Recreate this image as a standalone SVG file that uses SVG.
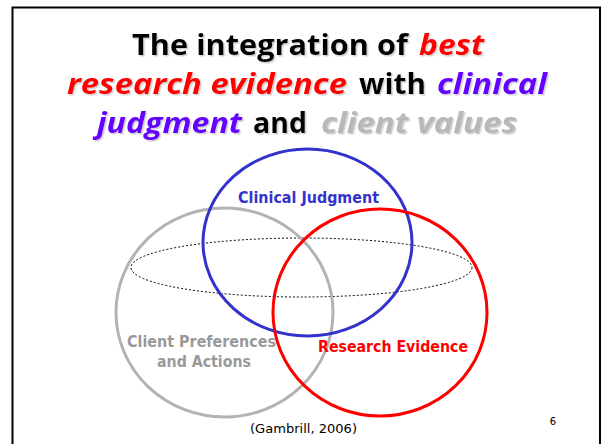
<svg xmlns="http://www.w3.org/2000/svg" width="602" height="444" viewBox="0 0 602 444">
<defs>
<filter id="sh" x="-5%" y="-20%" width="110%" height="140%">
<feDropShadow dx="1.5" dy="1.5" stdDeviation="0.5" flood-color="#999" flood-opacity="0.45"/>
</filter>
</defs>
<style>
.t{font-family:"Open Sans","DejaVu Sans",Verdana,sans-serif;font-weight:bold;font-size:29px;fill:#000}
.red{fill:#ff0000;font-style:italic}
.pur{fill:#6600ff;font-style:italic}
.gry{fill:#b8b8b8;font-style:italic}
.lbl{font-family:"DejaVu Sans",Verdana,sans-serif;font-weight:bold;font-size:15px;text-anchor:middle}
.c{fill:none;stroke-width:3}
</style>
<rect x="0" y="0" width="602" height="444" fill="#fff"/>
<rect x="12.5" y="7.5" width="587.5" height="450" fill="none" stroke="#000" stroke-width="2"/>
<g id="title" filter="url(#sh)">
<text class="t" x="132" y="55" textLength="276" lengthAdjust="spacingAndGlyphs">The integration of</text>
<text class="t red" x="419" y="55" textLength="65" lengthAdjust="spacingAndGlyphs">best</text>
<text class="t red" x="67" y="94" textLength="280" lengthAdjust="spacingAndGlyphs">research evidence</text>
<text class="t" x="359" y="94" textLength="67" lengthAdjust="spacingAndGlyphs">with</text>
<text class="t pur" x="437" y="94" textLength="110" lengthAdjust="spacingAndGlyphs">clinical</text>
<text class="t pur" x="97" y="133" textLength="145" lengthAdjust="spacingAndGlyphs">judgment</text>
<text class="t" x="253" y="133" textLength="54" lengthAdjust="spacingAndGlyphs">and</text>
<text class="t gry" x="321" y="133" textLength="196" lengthAdjust="spacingAndGlyphs">client values</text>
</g>
<g id="connectors">
<ellipse cx="301.5" cy="267.5" rx="170.5" ry="29.5" fill="none" stroke="#000" stroke-width="1" stroke-dasharray="2,2"/>
</g>
<g id="client">
<ellipse class="c" cx="224.5" cy="312.5" rx="108.5" ry="104.5" stroke="#b3b3b3"/>
<text class="lbl" x="201.5" y="347" fill="#999" textLength="149" lengthAdjust="spacingAndGlyphs">Client Preferences</text>
<text class="lbl" x="204" y="367" fill="#999" textLength="94" lengthAdjust="spacingAndGlyphs">and Actions</text>
</g>
<g id="clinical">
<ellipse class="c" cx="307.5" cy="242.5" rx="104.5" ry="93.5" stroke="#3333cc"/>
<text class="lbl" x="308.5" y="203" fill="#3333cc" textLength="141" lengthAdjust="spacingAndGlyphs">Clinical Judgment</text>
</g>
<g id="research">
<ellipse class="c" cx="380" cy="312.5" rx="107" ry="103.5" stroke="#ff0000"/>
<text class="lbl" x="393" y="352" fill="#ff0000" textLength="150" lengthAdjust="spacingAndGlyphs">Research Evidence</text>
</g>
<text x="303.5" y="433" font-family="'DejaVu Sans',Verdana,sans-serif" font-size="13" text-anchor="middle" textLength="107" lengthAdjust="spacingAndGlyphs" fill="#000">(Gambrill, 2006)</text>
<text x="553" y="425" font-family="'DejaVu Sans',Verdana,sans-serif" font-size="10" text-anchor="middle" fill="#000">6</text>
</svg>
